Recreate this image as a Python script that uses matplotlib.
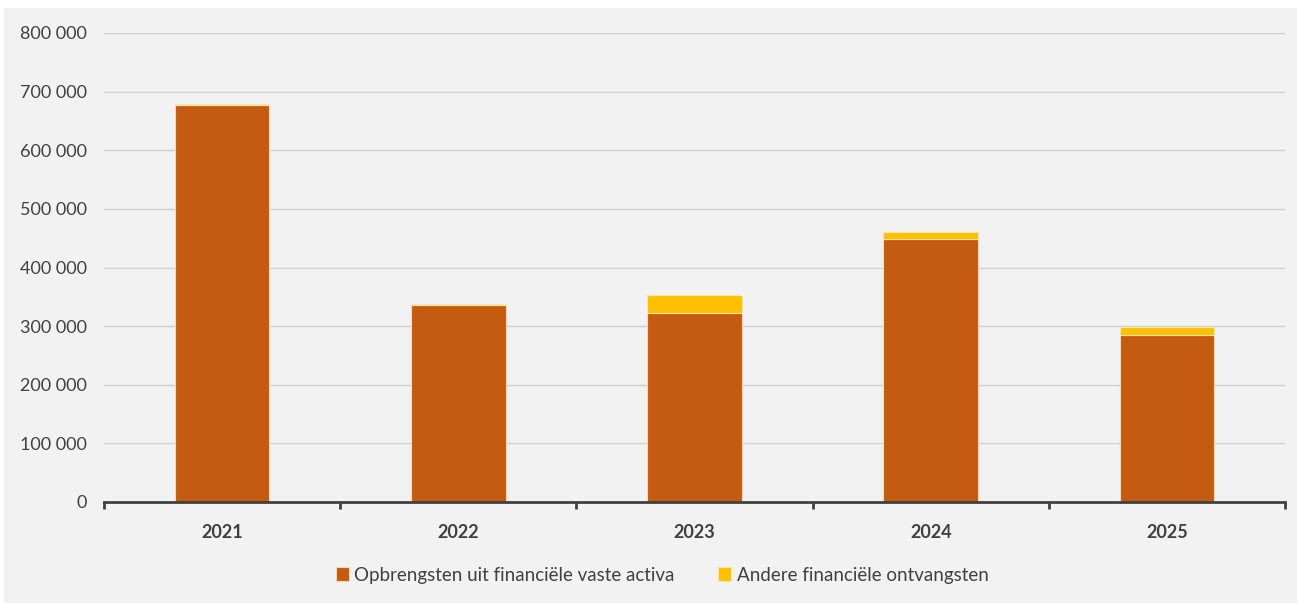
import matplotlib
matplotlib.use("Agg")
import matplotlib.pyplot as plt
from matplotlib.patches import Rectangle
from matplotlib.ticker import FuncFormatter, FixedLocator
import numpy as np

years = ["2021", "2022", "2023", "2024", "2025"]
vaste_activa = [677000, 336000, 322500, 448500, 285000]
andere = [1500, 1200, 30500, 12500, 13000]
series_names = ["Opbrengsten uit financiële vaste activa", "Andere financiële ontvangsten"]

plt.rcParams['font.family'] = ['Lato', 'DejaVu Sans']

fig = plt.figure(figsize=(12.99, 6.03), dpi=100, facecolor="white")
fig.patches.append(Rectangle((4/1299, 0), 1293/1299, 595/603, transform=fig.transFigure,
                             facecolor="#f2f2f2", edgecolor="none", zorder=-10))
ax = fig.add_axes([104/1299, 1-502/603, (1285-104)/1299, (502-33)/603])
ax.set_facecolor("none")

x = np.arange(len(years))
w = 0.4
ax.bar(x, vaste_activa, w, color="#C55A11", edgecolor="#f7d9b5", linewidth=0.8,
       label=series_names[0], zorder=3)
ax.bar(x, andere, w, bottom=vaste_activa, color="#FFC000", edgecolor="#fbe6a8", linewidth=0.8,
       label=series_names[1], zorder=3)

ax.set_xlim(-0.5, len(years) - 0.5)
ax.set_ylim(0, 800000)
ax.set_yticks(np.arange(0, 800001, 100000))
ax.yaxis.set_major_formatter(FuncFormatter(lambda v, p: f"{int(v):,}".replace(",", " ")))
ax.grid(axis="y", color="#d0d0d0", linewidth=1, zorder=0)
ax.set_xticks(x)
ax.set_xticklabels(years, fontweight="bold", fontsize=13, color="#404040")
ax.xaxis.set_minor_locator(FixedLocator(np.arange(-0.5, len(years), 1.0)))
ax.tick_params(axis="x", which="major", length=0, pad=16)
ax.tick_params(axis="x", which="minor", length=5, width=2, color="#404040", direction="out")
ax.tick_params(axis="y", length=0, labelsize=13, labelcolor="#404040", pad=12)
for s in ["top", "right", "left"]:
    ax.spines[s].set_visible(False)
ax.spines["bottom"].set_color("#404040")
ax.spines["bottom"].set_linewidth(2)
ax.spines["bottom"].set_zorder(4)

leg = fig.legend(loc="center", bbox_to_anchor=(662/1299, 1-575/603), ncol=2, frameon=False,
                 fontsize=13.5, handlelength=0.7, handleheight=0.7, handletextpad=0.3,
                 columnspacing=2.3, labelcolor="#404040")

fig.savefig("out.png", dpi=100, facecolor=fig.get_facecolor())
